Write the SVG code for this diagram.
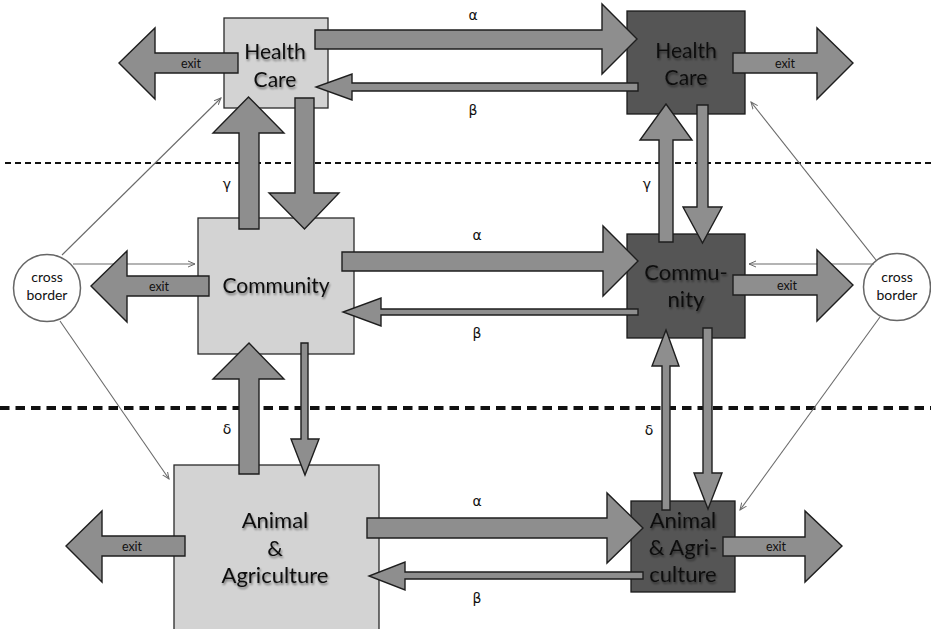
<svg xmlns="http://www.w3.org/2000/svg" width="931" height="629" viewBox="0 0 931 629">
<style>
.lbox{fill:#d3d3d3;stroke:#2a2a2a;stroke-width:1.3}
.dbox{fill:#555555;stroke:#1a1a1a;stroke-width:1.3}
.nt{font-family:Lato,"Liberation Sans",sans-serif;font-size:21px;fill:#111;text-anchor:middle;filter:url(#sh)}
.ct{font-family:Lato,"Liberation Sans",sans-serif;font-size:14px;fill:#111;text-anchor:middle}
.et{font-family:Lato,"Liberation Sans",sans-serif;font-size:12.5px;fill:#111;text-anchor:middle}
.gt{font-family:"DejaVu Sans","Liberation Sans",sans-serif;font-size:14px;fill:#111;text-anchor:middle}
.ba{fill:#8e8e8e;stroke:#1e1e1e;stroke-width:1.4;stroke-linejoin:miter}
.thin{stroke:#6a6a6a;stroke-width:1.1;fill:none;marker-end:url(#ah)}
.circ{fill:#fff;stroke:#666;stroke-width:1.5}
</style>
<defs>
<filter id="sh" x="-20%" y="-30%" width="140%" height="160%">
<feGaussianBlur in="SourceAlpha" stdDeviation="1.2"/>
<feOffset dx="1" dy="1.5" result="b"/>
<feComponentTransfer><feFuncA type="linear" slope="0.45"/></feComponentTransfer>
<feMerge><feMergeNode/><feMergeNode in="SourceGraphic"/></feMerge>
</filter>
<marker id="ah" markerWidth="8" markerHeight="8" refX="7" refY="4" orient="auto" markerUnits="userSpaceOnUse">
<path d="M0,1 L7,4 L0,7" fill="none" stroke="#6a6a6a" stroke-width="1"/>
</marker>
</defs>
<rect width="931" height="629" fill="#fff"/>
<g id="borders">
<line x1="5" y1="163" x2="931" y2="163" stroke="#111" stroke-width="2" stroke-dasharray="6 4"/>
<line x1="0" y1="408" x2="931" y2="408" stroke="#111" stroke-width="4" stroke-dasharray="9.5 6"/>
</g>
<g id="hc-left"><rect class="lbox" x="224" y="18" width="104" height="90"/><text class="nt" x="275" y="59">Health</text><text class="nt" x="275" y="87">Care</text></g>
<g id="hc-right"><rect class="dbox" x="627" y="11" width="118" height="103"/><text class="nt" x="686" y="58">Health</text><text class="nt" x="686" y="85">Care</text></g>
<g id="comm-left"><rect class="lbox" x="198" y="218" width="156" height="136"/><text class="nt" x="276" y="293" font-size="22">Community</text></g>
<g id="comm-right"><rect class="dbox" x="627" y="234" width="118" height="104"/><text class="nt" x="686" y="280" style="font-size:22px">Commu-</text><text class="nt" x="686" y="307" style="font-size:22px">nity</text></g>
<g id="ag-left"><rect class="lbox" x="174" y="465" width="205" height="170"/><text class="nt" x="275" y="528" style="font-size:22px">Animal</text><text class="nt" x="275" y="556" style="font-size:22px">&amp;</text><text class="nt" x="275" y="583" style="font-size:22px">Agriculture</text></g>
<g id="ag-right"><rect class="dbox" x="631" y="501" width="104" height="91"/><text class="nt" x="683" y="528" style="font-size:22px">Animal</text><text class="nt" x="683" y="555" style="font-size:22px">&amp; Agri-</text><text class="nt" x="683" y="582" style="font-size:22px">culture</text></g>
<g id="cb-left"><circle class="circ" cx="47" cy="288" r="33.5"/><text class="ct" x="47" y="282">cross</text><text class="ct" x="47" y="300">border</text></g>
<g id="cb-right"><circle class="circ" cx="897" cy="287" r="33.5"/><text class="ct" x="897" y="282">cross</text><text class="ct" x="897" y="300">border</text></g>
<g id="connectors">
<line class="thin" x1="62" y1="255" x2="221" y2="98"/>
<line class="thin" x1="73" y1="264" x2="195" y2="264"/>
<line class="thin" x1="60" y1="321" x2="169" y2="479"/>
<line class="thin" x1="876" y1="260" x2="751" y2="102"/>
<line class="thin" x1="874" y1="264" x2="749" y2="264"/>
<line class="thin" x1="880" y1="317" x2="740" y2="510"/>
<path class="ba" d="M315,30 H602 V4 L637,39 L602,74 V49 H315 Z"/>
<path class="ba" d="M638,83 H352 V74 L316,87 L352,100 V91 H638 Z"/>
<path class="ba" d="M342,252 H603 V226 L638,261 L603,296 V271 H342 Z"/>
<path class="ba" d="M638,309 H381 V298 L343,312 L381,326 V315 H638 Z"/>
<path class="ba" d="M367,518 H607 V493 L643,528 L607,563 V538 H367 Z"/>
<path class="ba" d="M643,572 H405 V562 L369,576 L405,590 V579 H643 Z"/>
<path class="ba" d="M239,229 V133 H213 L248.5,97 L284,133 H259 V229 Z"/>
<path class="ba" d="M295,98 V193 H269 L304.5,229 L339,193 H314 V98 Z"/>
<path class="ba" d="M239,474 V379 H213 L249,343 L284,379 H259 V474 Z"/>
<path class="ba" d="M301,343 V439 H291 L305,475 L319,439 H308 V343 Z"/>
<path class="ba" d="M659,242 V140 H640 L666,104 L692,140 H673 V242 Z"/>
<path class="ba" d="M697,105 V207 H683 L702.5,243 L722,207 H708 V105 Z"/>
<path class="ba" d="M662,510 V366 H652 L666,330 L679,366 H670 V510 Z"/>
<path class="ba" d="M703,328 V473 H694 L708,509 L722,473 H712 V328 Z"/>
<path class="ba" d="M238,53 H155 V28 L119,63 L155,99 V73 H238 Z"/>
<path class="ba" d="M733,53 H817 V28 L853,63 L817,99 V73 H733 Z"/>
<path class="ba" d="M209,276 H127 V251 L91,286 L127,322 V296 H209 Z"/>
<path class="ba" d="M733,275 H817 V250 L853,285 L817,321 V295 H733 Z"/>
<path class="ba" d="M185,536 H102 V511 L66,546 L102,582 V556 H185 Z"/>
<path class="ba" d="M723,537 H805 V511 L842,546 L805,582 V556 H723 Z"/>
<text class="et" x="191" y="68">exit</text>
<text class="et" x="785" y="68">exit</text>
<text class="et" x="159" y="291">exit</text>
<text class="et" x="787" y="290">exit</text>
<text class="et" x="132" y="551">exit</text>
<text class="et" x="776" y="551">exit</text>
<text class="gt" x="473" y="20">α</text>
<text class="gt" x="473" y="115">β</text>
<text class="gt" x="477" y="240">α</text>
<text class="gt" x="477" y="338">β</text>
<text class="gt" x="477" y="506">α</text>
<text class="gt" x="477" y="603">β</text>
<text class="gt" x="227" y="189">γ</text>
<text class="gt" x="647" y="189">γ</text>
<text class="gt" x="227" y="434">δ</text>
<text class="gt" x="649" y="435">δ</text>
</g>
</svg>
